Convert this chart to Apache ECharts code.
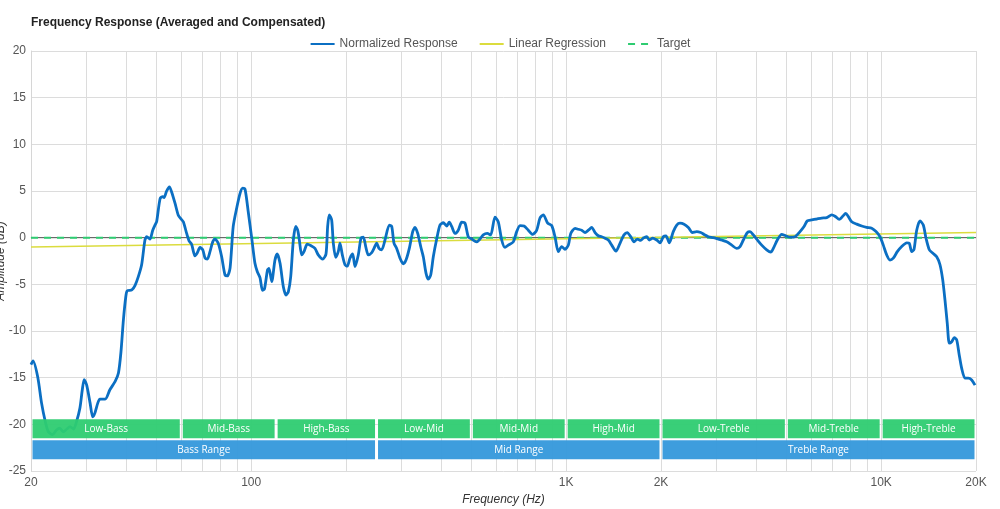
<!DOCTYPE html>
<html><head><meta charset="utf-8">
<script src="https://cdn.jsdelivr.net/npm/echarts@6/dist/echarts.min.js"></script>
<style>html,body{margin:0;padding:0;background:#fff}#c{width:1000px;height:509px}</style>
</head><body><div id="c"></div>
<script>
const freqHz = [20,20.3,21.0,21.6,22.2,22.7,23.4,24.1,24.7,25.3,26.0,26.6,27.3,27.9,28.6,29.1,29.5,30.05,30.8,31.4,31.9,32.6,33.1,34.4,35.6,37.0,37.9,38.6,39.3,40.0,40.4,41.8,42.8,43.8,44.9,46.0,46.6,47.7,48.7,49.5,50.1,51.4,52.4,52.9,53.9,55.0,55.9,57.3,58.7,59.9,60.9,62.4,63.5,64.7,66.3,67.4,68.8,70.2,71.4,72.6,74.0,75.5,76.8,78.6,80.6,82.6,84.0,85.7,87.7,90.0,92.2,94.0,95.6,97.9,100.4,102.8,104.6,106.7,108.6,110.2,112.7,113.9,116.2,119.0,121.0,123.5,126.5,129.0,131.2,133.5,136.1,138.5,140.5,142.2,144.7,147.1,150.7,154.5,159.4,163.3,168.7,172.8,174.9,177.0,180.1,182.3,185.5,189.0,191.4,194.7,198.5,201.9,205.9,210.0,213.6,218.8,223.2,227.0,231.0,235.4,241.4,245.4,250.3,254.6,259.6,266.0,274.5,279.3,284.1,289.7,296.8,304.0,310.1,317.7,325.7,331.2,337.8,345.3,351.9,358.9,365.0,371.5,378.6,388.1,397.6,407.3,417.5,425.5,433.1,443.6,454.4,465.9,477.2,488.9,501.2,519.8,532.5,545.5,561.7,575.8,594.3,608.8,624.2,639.4,655.0,679.4,696.5,713.5,734.7,758.1,782.9,806.1,825.8,845.9,873.6,899.5,921.5,944.1,967.8,991.4,1016,1034,1067,1093,1120,1148,1176,1205,1235,1265,1296,1328,1361,1395,1439,1482,1526,1563,1603,1642,1682,1724,1757,1801,1836,1882,1938,1986,2034,2074,2125,2188,2244,2298,2367,2442,2515,2597,2674,2739,2827,2932,3041,3117,3233,3354,3479,3564,3651,3759,3834,3928,4026,4176,4331,4460,4545,4680,4833,4977,5136,5327,5525,5690,5828,6019,6243,6476,6717,6967,7137,7365,7550,7717,7866,8063,8364,8675,8995,9331,9629,9914,10156,10411,10666,10926,11251,11620,12051,12282,12500,12712,12965,13282,13606,13877,14216,14573,15006,15372,15678,15944,16214,16453,16744,17065,17367,17662,18014,18454,18904,19381,19855];
const responseDb = [-13.6,-13.2,-14.9,-17.7,-19.7,-20.8,-21.1,-20.6,-20.4,-20.8,-20.5,-20.25,-20.5,-19.7,-18.25,-16.3,-15.2,-15.8,-17.7,-19.2,-18.8,-17.7,-17.3,-17.3,-16.3,-15.4,-14.5,-12.25,-8.8,-6.3,-5.7,-5.6,-5.1,-4.2,-2.9,-0.25,0.1,-0.15,0.8,1.35,1.7,4.2,4.4,4.3,5.0,5.45,4.9,3.7,2.4,2.0,1.7,0.45,-0.35,-0.7,-1.95,-1.65,-1.05,-1.3,-2.2,-2.3,-1.5,-0.45,-0.15,-0.6,-2.05,-4.0,-4.1,-3.25,1.2,3.2,4.75,5.3,5.2,2.75,-0.05,-2.75,-3.65,-4.3,-5.65,-5.5,-3.45,-3.3,-4.7,-2.4,-1.75,-2.75,-5.25,-6.15,-5.8,-4.2,-0.25,1.2,0.8,-0.25,-1.85,-1.5,-0.7,-0.85,-1.15,-1.85,-2.3,-1.75,1.2,2.45,1.9,-0.6,-2.1,-1.5,-0.6,-1.85,-2.9,-3.05,-2.2,-1.75,-3.1,-1.85,-0.05,0.05,-0.95,-1.85,-1.6,-1.15,-0.6,-1.15,-1.3,-0.25,1.35,1.2,-0.6,-1.15,-2.2,-2.8,-2.4,-1.15,0.65,1.1,0.45,-0.95,-2.05,-3.8,-4.45,-4.0,-2.05,-0.15,1.35,1.6,1.25,1.65,1.2,0.45,0.8,1.65,1.55,0.1,-0.15,-0.45,-0.15,0.3,0.45,0.3,2.2,1.7,-0.25,-1.05,-0.8,-0.45,0.65,1.3,1.25,0.8,0.35,0.8,2.1,2.45,1.55,1.3,0.1,-1.5,-0.95,-1.25,-0.8,0.45,1.0,0.9,0.8,0.55,0.8,1.1,0.55,0.2,0.1,-0.05,-0.25,-0.8,-1.45,-0.6,0.3,0.55,0.1,-0.45,-0.15,-0.3,-0.05,0.1,-0.25,-0.05,-0.25,-0.55,0.1,0.2,-0.55,0.65,1.35,1.55,1.45,1.1,0.55,0.65,0.55,0.35,0.1,0.0,-0.15,-0.25,-0.45,-0.8,-1.15,-0.95,-0.25,0.55,0.65,0.3,-0.15,-0.8,-1.3,-1.55,-1.15,-0.25,0.35,0.2,0.05,0.1,0.65,1.2,1.8,1.9,2.0,2.1,2.15,2.45,2.3,1.95,2.3,2.6,2.25,1.7,1.45,1.25,1.1,1.0,0.65,0.1,-0.8,-1.85,-2.4,-2.2,-1.5,-0.95,-0.55,-0.6,-1.5,-1.25,0.8,1.8,1.35,-0.05,-1.3,-1.65,-2.05,-2.9,-4.5,-6.7,-9.2,-11.3,-11.15,-10.7,-10.95,-12.4,-14.0,-15.05,-15.05,-15.25,-15.8];
const regressionHz = [20, 20000];
const regressionDb = [-1.0, 0.55];
const targetHz = [20, 20000];
const targetDb = [0, 0];
const bandNames = ['Low-Bass','Mid-Bass','High-Bass','Low-Mid','Mid-Mid','High-Mid','Low-Treble','Mid-Treble','High-Treble'];
const bandEdgesHz = [20,60,120,250,500,1000,2000,5000,10000,20000];
const rangeNames = ['Bass Range','Mid Range','Treble Range'];
const rangeEdgesHz = [20,250,2000,20000];
const xTickValues = [20,30,40,50,60,70,80,90,100,200,300,400,500,600,700,800,900,1000,2000,3000,4000,5000,6000,7000,8000,9000,10000,20000];
const xLabelValues = [20,100,1000,2000,10000,20000];
const xLabelTexts = ['20','100','1K','2K','10K','20K'];

const pairs = (xs, ys) => xs.map((x, i) => [x, ys[i]]);
const bandData = [];
bandNames.forEach((n, i) => bandData.push([bandEdgesHz[i], bandEdgesHz[i + 1], 0, i]));
rangeNames.forEach((n, i) => bandData.push([rangeEdgesHz[i], rangeEdgesHz[i + 1], 1, i]));

const FONT = 'Arial, "Liberation Sans", sans-serif';
const chart = echarts.init(document.getElementById('c'), null, {renderer: 'canvas'});
chart.setOption({
  animation: false,
  backgroundColor: '#fff',
  title: {
    text: 'Frequency Response (Averaged and Compensated)',
    left: 26, top: 12,
    textStyle: {fontSize: 12, fontWeight: 'bold', color: '#222', fontFamily: FONT}
  },
  legend: {
    top: 33, left: 'center',
    itemWidth: 24, itemHeight: 12, itemGap: 21,
    itemStyle: {opacity: 0},
    data: ['Normalized Response', 'Linear Regression', 'Target'],
    textStyle: {fontSize: 12, color: '#555', fontFamily: FONT}
  },
  grid: {left: 31, right: 24, top: 51, bottom: 38, containLabel: false, outerBoundsMode: 'none'},
  xAxis: {
    type: 'log', logBase: 10, min: 20, max: 20000,
    name: 'Frequency (Hz)', nameLocation: 'middle', nameGap: 23, nameMoveOverlap: false,
    nameTextStyle: {fontStyle: 'italic', fontSize: 12, color: '#333', fontFamily: FONT},
    axisLine: {show: true, lineStyle: {color: '#d6d6d6'}},
    axisTick: {show: false, customValues: xTickValues},
    axisLabel: {
      customValues: xLabelValues, margin: 6,
      fontSize: 12, color: '#555', fontFamily: FONT,
      formatter: v => { const k = xLabelValues.indexOf(Math.round(v)); return k >= 0 ? xLabelTexts[k] : ''; }
    },
    splitLine: {show: true, lineStyle: {color: '#dcdcdc', width: 1}}
  },
  yAxis: {
    type: 'value', min: -25, max: 20, interval: 5,
    name: 'Amplitude (dB)', nameLocation: 'middle', nameGap: 24, nameRotate: 90, nameMoveOverlap: false,
    nameTextStyle: {fontStyle: 'italic', fontSize: 12, color: '#333', fontFamily: FONT},
    axisLine: {show: true, lineStyle: {color: '#d6d6d6'}},
    axisTick: {show: false},
    axisLabel: {margin: 5, fontSize: 12, color: '#555', fontFamily: FONT},
    splitLine: {show: true, lineStyle: {color: '#dcdcdc', width: 1}}
  },
  series: [
    {
      name: 'zero', type: 'line', data: pairs(targetHz, targetDb), symbol: 'none', silent: true,
      lineStyle: {color: '#555', width: 1}, z: 1
    },
    {
      name: 'Target', type: 'line', data: pairs(targetHz, targetDb), symbol: 'none',
      lineStyle: {color: '#2ecc71', width: 2, type: [7, 6]}, itemStyle: {color: '#2ecc71'}, z: 2
    },
    {
      name: 'Linear Regression', type: 'line', data: pairs(regressionHz, regressionDb), symbol: 'none',
      lineStyle: {color: '#dbdc3e', width: 1.6}, itemStyle: {color: '#dbdc3e'}, z: 3
    },
    {
      name: 'Normalized Response', type: 'line', data: pairs(freqHz, responseDb), symbol: 'none',
      smooth: 0.25, lineStyle: {color: '#0b6fc3', width: 2.8}, itemStyle: {color: '#0b6fc3'}, z: 4
    },
    {
      name: 'bands', type: 'custom', data: bandData, z: 6, silent: true, clip: false,
      encode: {x: [0, 1], y: 2},
      renderItem: (params, api) => {
        const f0 = api.value(0), f1 = api.value(1), row = api.value(2), idx = api.value(3);
        const top = row === 0 ? -19.35 : -21.6;
        const bot = row === 0 ? -21.6 : -23.85;
        const p0 = api.coord([f0, top]);
        const p1 = api.coord([f1, bot]);
        const name = row === 0 ? bandNames[idx] : rangeNames[idx];
        const fill = row === 0 ? '#2ecc71' : '#3498db';
        const x0 = p0[0] + 1.5, x1 = p1[0] - 1.5, y0 = p0[1] + 1, y1 = p1[1] - 1;
        return {
          type: 'group',
          children: [
            {type: 'rect', shape: {x: x0, y: y0, width: x1 - x0, height: y1 - y0}, style: {fill: fill, opacity: 0.95}},
            {type: 'text', x: (x0 + x1) / 2, y: (y0 + y1) / 2,
             style: {text: name, fill: '#fff', font: '10px "Open Sans", sans-serif', align: 'center', verticalAlign: 'middle'}}
          ]
        };
      }
    }
  ]
});
</script></body></html>
